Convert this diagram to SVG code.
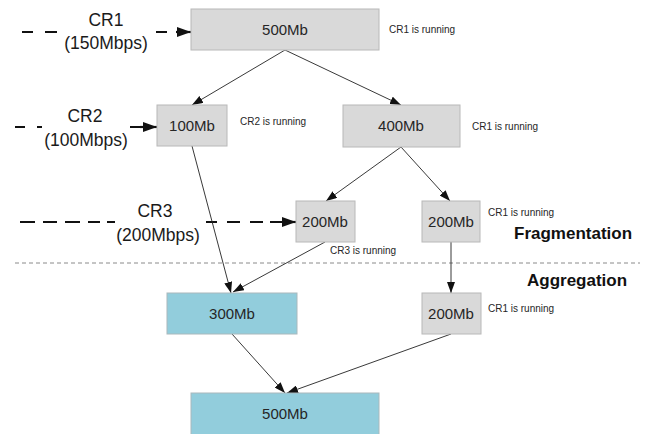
<svg xmlns="http://www.w3.org/2000/svg" width="646" height="434" viewBox="0 0 646 434">
<style>
.box{fill:#d9d9d9;stroke:#b8b8b8;stroke-width:1}
.agg{fill:#92cddc;stroke:#a9b8bc;stroke-width:1}
.lbl{font-family:"Liberation Sans",Arial,sans-serif;font-size:15px;fill:#262626;text-anchor:middle}
.note{font-family:"Liberation Sans",Arial,sans-serif;font-size:10px;fill:#262626}
.cr{font-family:"Liberation Sans",Arial,sans-serif;font-size:17.5px;fill:#1a1a1a;text-anchor:middle}
.phase{font-family:"Liberation Sans",Arial,sans-serif;font-size:17px;font-weight:bold;fill:#111}
.conn{stroke:#222;stroke-width:0.9;fill:none;marker-end:url(#arr)}
.dash{stroke:#111;stroke-width:2.2;fill:none}
.head{stroke:#111;stroke-width:2.2;fill:none;marker-end:url(#big)}
</style>
<defs>
<marker id="arr" markerUnits="userSpaceOnUse" markerWidth="11" markerHeight="8" refX="11" refY="4" orient="auto"><path d="M0,0 L11,4 L0,8 z" fill="#111"/></marker>
<marker id="big" markerUnits="userSpaceOnUse" markerWidth="14" markerHeight="10" refX="14" refY="5" orient="auto"><path d="M0,0 L14,5 L0,10 z" fill="#111"/></marker>
</defs>
<rect width="646" height="434" fill="#fff"/>
<line x1="15" y1="263" x2="640" y2="263" stroke="#8a8a8a" stroke-width="1" stroke-dasharray="4 3"/>
<g id="inputs">
<path class="dash" d="M22,32H33M45,32H57M156,32H167"/>
<path class="head" d="M176,32H191"/>
<text class="cr" x="106" y="26">CR1</text>
<text class="cr" x="106" y="49">(150Mbps)</text>
<path class="dash" d="M15,127H25M37,127H42M130,127H140"/>
<path class="head" d="M140,127H157"/>
<text class="cr" x="85" y="122">CR2</text>
<text class="cr" x="86" y="146">(100Mbps)</text>
<path class="dash" d="M20,222H35M43,222H57M65,222H80M88,222H100M107,222H115M206,222H217M227,222H240M250,222H263M270,222H282"/>
<path class="head" d="M282,222H296"/>
<text class="cr" x="155" y="217">CR3</text>
<text class="cr" x="158" y="241">(200Mbps)</text>
</g>
<g id="connectors">
<line class="conn" x1="285" y1="50" x2="192" y2="105"/>
<line class="conn" x1="285" y1="50" x2="401" y2="105"/>
<line class="conn" x1="192" y1="146" x2="231" y2="293"/>
<line class="conn" x1="401" y1="147" x2="326" y2="201"/>
<line class="conn" x1="401" y1="147" x2="450" y2="201"/>
<line class="conn" x1="325" y1="242" x2="233" y2="292"/>
<line class="conn" x1="451" y1="242" x2="451" y2="293"/>
<line class="conn" x1="232" y1="334" x2="285" y2="393"/>
<line class="conn" x1="451" y1="334" x2="287" y2="393"/>
</g>
<g id="n500top"><rect class="box" x="191" y="9" width="188" height="41"/><text class="lbl" x="285" y="35">500Mb</text></g>
<text class="note" x="389" y="33">CR1 is running</text>
<g id="n100"><rect class="box" x="157" y="105" width="70" height="41"/><text class="lbl" x="192" y="131">100Mb</text></g>
<text class="note" x="240" y="125">CR2 is running</text>
<g id="n400"><rect class="box" x="343" y="105" width="117" height="42"/><text class="lbl" x="401" y="131">400Mb</text></g>
<text class="note" x="472" y="130">CR1 is running</text>
<g id="n200a"><rect class="box" x="296" y="201" width="59" height="41"/><text class="lbl" x="325" y="227">200Mb</text></g>
<text class="note" x="330" y="254">CR3 is running</text>
<g id="n200b"><rect class="box" x="422" y="201" width="58" height="41"/><text class="lbl" x="451" y="227">200Mb</text></g>
<text class="note" x="488" y="216">CR1 is running</text>
<text class="phase" x="514" y="239">Fragmentation</text>
<text class="phase" x="527" y="286">Aggregation</text>
<g id="n300"><rect class="agg" x="167" y="293" width="130" height="41"/><text class="lbl" x="232" y="319">300Mb</text></g>
<g id="n200c"><rect class="box" x="422" y="293" width="59" height="41"/><text class="lbl" x="451" y="319">200Mb</text></g>
<text class="note" x="488" y="312">CR1 is running</text>
<g id="n500bot"><rect class="agg" x="191" y="393" width="188" height="45"/><text class="lbl" x="285" y="419">500Mb</text></g>
</svg>
